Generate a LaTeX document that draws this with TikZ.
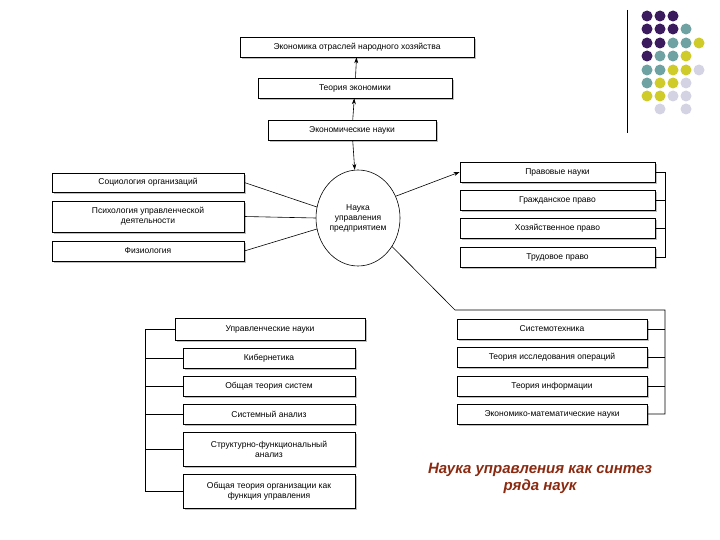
\documentclass[tikz,border=0pt]{standalone}
\usepackage{fontspec}
\setmainfont{Liberation Sans}
\usetikzlibrary{shadows,arrows.meta,shapes.geometric}
\definecolor{dP}{HTML}{3B1A5E}
\definecolor{dT}{HTML}{6FA3A3}
\definecolor{dY}{HTML}{CFCB2A}
\definecolor{dL}{HTML}{D3D3E3}
\definecolor{ttl}{HTML}{8B2A10}
\begin{document}
\begin{tikzpicture}[x=1pt,y=-1pt,
 bx/.style={draw,fill=white,line width=0.6pt,drop shadow={shadow xshift=2pt,shadow yshift=-2pt,opacity=0.5},font=\fontsize{8.5}{10}\selectfont,align=center,inner sep=0pt},
 ln/.style={line width=0.6pt},
 ar/.style={ln,-{Stealth[length=6pt,width=4pt]}},
 dot/.style={circle,inner sep=0pt,minimum size=11pt}]
\useasboundingbox (0,0) rectangle (720,540);
\newcommand\bxx[6]{\node[bx,minimum width=#4-#2,minimum height=#5-#3] (#1) at ({(#2+#4)/2},{(#3+#5)/2}) {#6};}
\bxx{eo}{240}{37}{474}{57}{Экономика отраслей народного хозяйства}
\bxx{te}{258}{78}{452}{98}{Теория экономики}
\bxx{en}{268}{120}{436}{140}{Экономические науки}
\bxx{pn}{460}{162}{655}{182}{Правовые науки}
\bxx{gp}{460}{190}{655}{210}{Гражданское право}
\bxx{hp}{460}{218}{655}{238}{Хозяйственное право}
\bxx{tp}{460}{247}{655}{267}{Трудовое право}
\bxx{so}{52}{173}{244}{192}{Социология организаций}
\bxx{ps}{52}{201}{244}{232}{Психология управленческой\\деятельности}
\bxx{fi}{52}{241}{244}{261}{Физиология}
\node[draw,ellipse,fill=white,line width=0.6pt,minimum width=84pt,minimum height=96pt,align=center,inner sep=0pt,font=\fontsize{8.5}{10}\selectfont] (nu) at (358,218) {Наука\\управления\\предприятием};
\bxx{un}{175}{318}{365}{340}{Управленческие науки}
\bxx{ki}{183}{348}{355}{368}{Кибернетика}
\bxx{ot}{183}{376}{355}{396}{Общая теория систем}
\bxx{sa}{183}{404}{355}{424}{Системный анализ}
\bxx{sf}{183}{432}{355}{466}{Структурно-функциональный\\анализ}
\bxx{oo}{183}{474}{355}{508}{Общая теория организации как\\функция управления}
\bxx{st}{457}{319}{647}{339}{Системотехника}
\bxx{ti}{457}{347}{647}{367}{Теория исследования операций}
\bxx{tn}{457}{376}{647}{396}{Теория информации}
\bxx{em}{457}{404}{647}{424}{Экономико-математические науки}
\draw[ar] (te) -- (eo);
\draw[ar] (en) -- (te);
\draw[ar] (en) -- (nu);
\draw[ar] (nu.30) -- (pn.west);
\draw[ln] (so.east) -- (nu.165);
\draw[ln] (ps.east) -- (nu.west);
\draw[ln] (fi.east) -- (nu.195);
\coordinate (k1) at (455,310);
\coordinate (k2) at (665,310);
\draw[ln] (nu.-40) -- (k1) -- (k2) |- (em.east);
\foreach \n in {st,ti,tn} \draw[ln] (\n.east) -- (665,0|-\n.east);
\draw[ln] (pn.east) -- (665,0|-pn.east) |- (tp.east);
\foreach \n in {gp,hp} \draw[ln] (\n.east) -- (665,0|-\n.east);
\draw[ln] (un.west) -- (145,0|-un.west) |- (oo.west);
\foreach \n in {ki,ot,sa,sf} \draw[ln] (\n.west) -- (145,0|-\n.west);
\node[font=\bfseries\itshape\fontsize{15}{17}\selectfont,text=ttl,align=center] (tt) at (540,478) {Наука управления как синтез\\ряда наук};
\draw[line width=1pt] (627,10) -- (627,133);
\foreach \r/\cs in {16/{P,P,P},29/{P,P,P,T},43/{P,P,T,T,Y},56/{P,T,T,Y},70/{T,T,Y,Y,L},83/{T,Y,Y,L},96/{Y,Y,L,L}}{
 \foreach \c [count=\i from 0] in \cs {\node[dot,fill=d\c] (d\r-\i) at (647+13*\i,\r) {};}}
\node[dot,fill=dL] (e1) at (660,109) {};
\node[dot,fill=dL] (e2) at (686,109) {};
\end{tikzpicture}
\end{document}
